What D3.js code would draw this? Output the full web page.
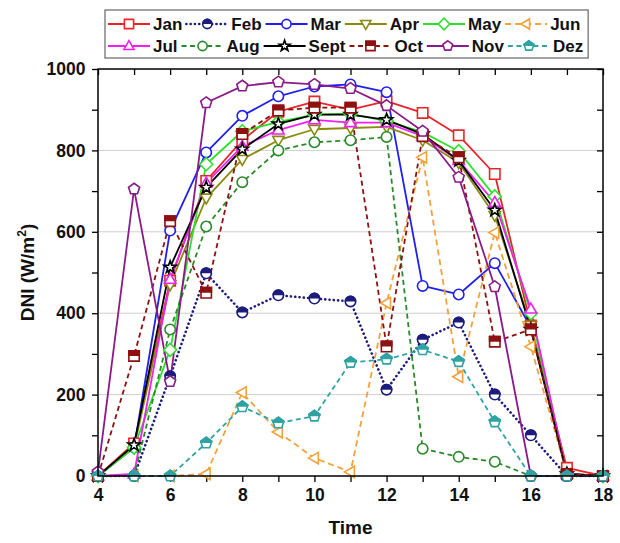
<!DOCTYPE html>
<html>
<head>
<meta charset="utf-8">
<script src="https://cdn.jsdelivr.net/npm/d3@7"></script>
<style>
  html, body { margin: 0; padding: 0; background: #fff; }
  svg { display: block; font-family: "Liberation Sans", Arial, sans-serif; font-weight: bold; }
</style>
</head>
<body>
<svg id="chart" width="620" height="543"></svg>
<script>
// Hourly direct normal irradiance, one array per month
const hours = [4, 5, 6, 7, 8, 9, 10, 11, 12, 13, 14, 15, 16, 17, 18];
const jan  = [0, 80, 480, 725, 825, 895, 920, 900, 921, 892, 837, 742, 370, 20, 0];
const feb  = [0, 0, 245, 498, 402, 444, 436, 429, 212, 335, 377, 200, 100, 0, 0];
const mar  = [0, 70, 603, 795, 885, 933, 957, 962, 943, 467, 446, 523, 365, 5, 0];
const apr  = [0, 70, 470, 683, 778, 825, 852, 855, 858, 825, 770, 640, 370, 5, 0];
const may  = [0, 70, 310, 766, 847, 870, 888, 890, 872, 845, 798, 687, 400, 5, 0];
const jun  = [0, 0, 0, 5, 205, 108, 44, 10, 425, 783, 244, 598, 318, 5, 0];
const jul  = [0, 5, 483, 720, 810, 850, 875, 868, 868, 835, 775, 672, 410, 5, 0];
const aug  = [0, 0, 360, 613, 722, 800, 820, 825, 833, 67, 47, 35, 0, 0, 0];
const sept = [0, 76, 513, 709, 803, 865, 888, 888, 875, 840, 775, 653, 360, 5, 0];
const oct  = [0, 295, 626, 450, 840, 898, 905, 905, 318, 835, 783, 330, 360, 5, 0];
const nov  = [10, 705, 232, 917, 958, 968, 962, 952, 910, 847, 734, 465, 0, 0, 0];
const dez  = [0, 0, 0, 81, 170, 130, 147, 279, 287, 310, 281, 133, 0, 0, 0];

const monthNames = ["Jan", "Feb", "Mar", "Apr", "May", "Jun", "Jul", "Aug", "Sept", "Oct", "Nov", "Dez"];
const monthValues = [jan, feb, mar, apr, may, jun, jul, aug, sept, oct, nov, dez];
const xTicks = [4, 6, 8, 10, 12, 14, 16, 18];
const yTicks = [0, 200, 400, 600, 800, 1000];

// Per-series drawing style
const styles = {
  Jan:  { color: "#e8252b", dash: null,  symbol: "square",   half: false },
  Feb:  { color: "#1c1c7c", dash: "0.1,4.2", symbol: "circle", half: true },
  Mar:  { color: "#1f1fee", dash: null,  symbol: "circle",   half: false },
  Apr:  { color: "#8a8a10", dash: null,  symbol: "triDown",  half: false },
  May:  { color: "#2ee02e", dash: null,  symbol: "diamond",  half: false },
  Jun:  { color: "#f2a23a", dash: "6,4", symbol: "triLeft",  half: false },
  Jul:  { color: "#f020f0", dash: null,  symbol: "triUp",    half: false },
  Aug:  { color: "#2a8a2a", dash: "5,3.5", symbol: "circle", half: false },
  Sept: { color: "#000000", dash: null,  symbol: "star",     half: false },
  Oct:  { color: "#8e1010", dash: "5,3.5", symbol: "square", half: true },
  Nov:  { color: "#8a1a8a", dash: null,  symbol: "pentagon", half: false },
  Dez:  { color: "#2fa3a3", dash: "5,3.5", symbol: "pentagon", half: true }
};

const svg = d3.select("#chart");
const margin = { left: 98, right: 17, top: 69, bottom: 67 };
const W = 620, H = 543;
const x = d3.scaleLinear().domain([4, 18]).range([margin.left, W - margin.right]);
const y = d3.scaleLinear().domain([0, 1000]).range([H - margin.bottom, margin.top]);

const defs = svg.append("defs");
defs.append("clipPath").attr("id", "topHalf")
  .append("rect").attr("x", -12).attr("y", -12).attr("width", 24).attr("height", 12);
defs.append("clipPath").attr("id", "plotArea")
  .append("rect").attr("x", margin.left - 8).attr("y", margin.top - 8)
  .attr("width", W - margin.right - margin.left + 16).attr("height", H - margin.bottom - margin.top + 16);

function symbolPath(kind, r) {
  switch (kind) {
    case "square": return `M${-r},${-r}H${r}V${r}H${-r}Z`;
    case "circle": return `M${-r},0A${r},${r} 0 1,1 ${r},0A${r},${r} 0 1,1 ${-r},0Z`;
    case "triUp": return `M0,${-r * 1.15}L${r * 1.1},${r * 0.75}L${-r * 1.1},${r * 0.75}Z`;
    case "triDown": return `M0,${r * 1.15}L${r * 1.1},${-r * 0.75}L${-r * 1.1},${-r * 0.75}Z`;
    case "triLeft": return `M${-r * 1.15},0L${r * 0.75},${-r * 1.1}L${r * 0.75},${r * 1.1}Z`;
    case "diamond": return `M0,${-r * 1.25}L${r * 1.25},0L0,${r * 1.25}L${-r * 1.25},0Z`;
    case "pentagon": {
      const pts = d3.range(5).map(i => {
        const a = -Math.PI / 2 + i * 2 * Math.PI / 5;
        return [Math.cos(a) * r * 1.12, Math.sin(a) * r * 1.12];
      });
      return "M" + pts.map(p => p.join(",")).join("L") + "Z";
    }
    case "star": {
      const pts = d3.range(10).map(i => {
        const a = -Math.PI / 2 + i * Math.PI / 5;
        const rr = i % 2 === 0 ? r * 1.25 : r * 0.5;
        return [Math.cos(a) * rr, Math.sin(a) * rr];
      });
      return "M" + pts.map(p => p.join(",")).join("L") + "Z";
    }
  }
}

function drawMarker(g, st, r) {
  g.append("path").attr("d", symbolPath(st.symbol, r))
    .attr("fill", "#fff").attr("stroke", st.color).attr("stroke-width", 1.6);
  if (st.half) {
    g.append("path").attr("d", symbolPath(st.symbol, r))
      .attr("fill", st.color).attr("stroke", st.color).attr("stroke-width", 1.6)
      .attr("clip-path", "url(#topHalf)");
  }
}

// Horizontal grid
svg.append("g").selectAll("line").data([200, 400, 600, 800]).join("line")
  .attr("x1", margin.left).attr("x2", W - margin.right)
  .attr("y1", d => y(d)).attr("y2", d => y(d))
  .attr("stroke", "#cfcfcf").attr("stroke-width", 1);

// Axes
const axisColor = "#000";
const bottomAxis = d3.axisBottom(x).tickValues(d3.range(4, 19, 1)).tickSize(6)
  .tickFormat(d => xTicks.includes(d) ? d : "");
const gx = svg.append("g").attr("transform", `translate(0,${H - margin.bottom})`).call(bottomAxis);
const leftAxis = d3.axisLeft(y).tickValues(d3.range(0, 1001, 100)).tickSize(6)
  .tickFormat(d => yTicks.includes(d) ? d : "");
const gy = svg.append("g").attr("transform", `translate(${margin.left},0)`).call(leftAxis);
const topAxis = d3.axisBottom(x).tickValues(d3.range(4, 19, 1)).tickSize(6).tickFormat("");
const gt = svg.append("g").attr("transform", `translate(0,${margin.top})`).call(topAxis);
const rightAxis = d3.axisLeft(y).tickValues(d3.range(0, 1001, 100)).tickSize(6).tickFormat("");
const gr = svg.append("g").attr("transform", `translate(${W - margin.right},0)`).call(rightAxis);

[gx, gy, gt, gr].forEach(g => {
  g.select(".domain").remove();
  g.selectAll(".tick line").attr("stroke", axisColor).attr("stroke-width", 1.3);
  g.selectAll(".tick text").attr("fill", "#111").attr("font-size", 17.5)
    .attr("font-weight", "bold").attr("font-family", "Liberation Sans, Arial, sans-serif");
});
gx.selectAll(".tick text").attr("dy", "0.92em");
gy.selectAll(".tick text").attr("dx", "-0.2em");

// Series lines and markers
const line = d3.line().x((d, i) => x(hours[i])).y(d => y(d));
const plot = svg.append("g").attr("clip-path", "url(#plotArea)");
monthNames.forEach((m, k) => {
  const st = styles[m];
  const vals = monthValues[k];
  plot.append("path").datum(vals).attr("d", line)
    .attr("fill", "none").attr("stroke", st.color)
    .attr("stroke-width", m === "Feb" ? 2.6 : 1.8)
    .attr("stroke-linecap", m === "Feb" ? "round" : "butt")
    .attr("stroke-linejoin", "round")
    .attr("stroke-dasharray", st.dash);
});
monthNames.forEach((m, k) => {
  const st = styles[m];
  monthValues[k].forEach((v, i) => {
    const g = plot.append("g").attr("transform", `translate(${x(hours[i])},${y(v)})`);
    drawMarker(g, st, 5.2);
  });
});

// Plot frame
svg.append("rect").attr("x", margin.left).attr("y", margin.top)
  .attr("width", W - margin.right - margin.left).attr("height", H - margin.top - margin.bottom)
  .attr("fill", "none").attr("stroke", "#000").attr("stroke-width", 1.5);

// Axis titles
svg.append("text").attr("x", (margin.left + W - margin.right) / 2).attr("y", 534)
  .attr("text-anchor", "middle").attr("font-size", 19).attr("fill", "#111").text("Time");
const yt = svg.append("text").attr("transform", `translate(34,${(margin.top + H - margin.bottom) / 2}) rotate(-90)`)
  .attr("text-anchor", "middle").attr("font-size", 19).attr("fill", "#111");
yt.append("tspan").text("DNI (W/m");
yt.append("tspan").attr("font-size", 12).attr("dy", -8).text("2");
yt.append("tspan").attr("dy", 8).text(")");

// Legend
const legend = svg.append("g");
const rowY = [24, 46];
const sampleLen = 42;
let maxRight = 0;
[0, 1].forEach(row => {
  let cx = 108;
  monthNames.slice(row * 6, row * 6 + 6).forEach(m => {
    const st = styles[m];
    legend.append("line").attr("x1", cx).attr("x2", cx + sampleLen)
      .attr("y1", rowY[row]).attr("y2", rowY[row])
      .attr("stroke", st.color).attr("stroke-width", m === "Feb" ? 2.6 : 1.8)
      .attr("stroke-linecap", m === "Feb" ? "round" : "butt")
      .attr("stroke-dasharray", st.dash);
    const g = legend.append("g").attr("transform", `translate(${cx + sampleLen / 2},${rowY[row]})`);
    drawMarker(g, st, 4.6);
    const t = legend.append("text").attr("x", cx + sampleLen + 3).attr("y", rowY[row])
      .attr("dy", "0.36em").attr("font-size", 17).attr("fill", "#111").text(m);
    const end = cx + sampleLen + 3 + t.node().getComputedTextLength();
    maxRight = Math.max(maxRight, end);
    cx = end + 4;
  });
});
legend.insert("rect", ":first-child").attr("x", 105).attr("y", 10)
  .attr("width", maxRight + 5 - 105).attr("height", 48)
  .attr("fill", "#fff").attr("stroke", "#666").attr("stroke-width", 1.2);
</script>
</body>
</html>
